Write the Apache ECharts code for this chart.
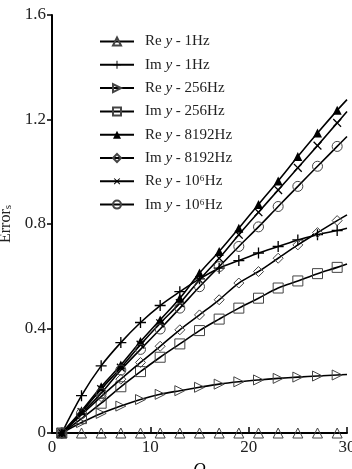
<!DOCTYPE html>
<html>
<head>
<meta charset="utf-8">
<title>Error vs Q</title>
<script src="https://cdn.jsdelivr.net/npm/echarts@6/dist/echarts.min.js"></script>
<style>
  html, body { margin: 0; padding: 0; background: #fff; }
</style>
</head>
<body>
<div id="main" style="width:352px;height:469px;"></div>
<script type="text/javascript">
// Q values (markers at odd Q, last point only ends the curve)
var qValues = [1, 3, 5, 7, 9, 11, 13, 15, 17, 19, 21, 23, 25, 27, 29, 30];

var reY1Hz    = [0, 0, 0, 0, 0, 0, 0, 0, 0, 0, 0, 0, 0, 0, 0, 0];
var imY1Hz    = [0, 0.143, 0.257, 0.346, 0.423, 0.488, 0.541, 0.590, 0.631, 0.660, 0.689, 0.714, 0.739, 0.759, 0.775, 0.784];
var reY256Hz  = [0, 0.040, 0.075, 0.103, 0.128, 0.148, 0.162, 0.175, 0.187, 0.196, 0.203, 0.209, 0.214, 0.218, 0.222, 0.224];
var imY256Hz  = [0, 0.055, 0.114, 0.177, 0.235, 0.290, 0.341, 0.392, 0.436, 0.478, 0.516, 0.555, 0.582, 0.610, 0.634, 0.647];
var reY8192Hz = [0, 0.085, 0.177, 0.260, 0.350, 0.433, 0.516, 0.612, 0.695, 0.784, 0.875, 0.965, 1.058, 1.148, 1.235, 1.276];
var imY8192Hz = [0, 0.070, 0.139, 0.206, 0.270, 0.332, 0.395, 0.452, 0.510, 0.574, 0.618, 0.669, 0.720, 0.767, 0.813, 0.835];
var reY1e6Hz  = [0, 0.080, 0.168, 0.250, 0.338, 0.420, 0.497, 0.586, 0.669, 0.759, 0.845, 0.930, 1.015, 1.100, 1.187, 1.231];
var imY1e6Hz  = [0, 0.075, 0.152, 0.241, 0.320, 0.398, 0.478, 0.560, 0.637, 0.714, 0.789, 0.867, 0.944, 1.021, 1.097, 1.135];

var seriesNames = ['Re y - 1Hz', 'Im y - 1Hz', 'Re y - 256Hz', 'Im y - 256Hz',
                   'Re y - 8192Hz', 'Im y - 8192Hz', 'Re y - 10\u2076Hz', 'Im y - 10\u2076Hz'];
var seriesValues = [reY1Hz, imY1Hz, reY256Hz, imY256Hz, reY8192Hz, imY8192Hz, reY1e6Hz, imY1e6Hz];

var xTicks = [0, 10, 20, 30];
var yTicks = [0, 0.4, 0.8, 1.2, 1.6];

var FONT = '"Liberation Serif", "DejaVu Serif", serif';
var plusPath = 'path://M4.4,0h1.2v4.4h4.4v1.2h-4.4v4.4h-1.2v-4.4h-4.4v-1.2h4.4z';

// marker look of each curve
var markers = [
  { symbol: 'triangle', size: 10, rotate: 0, hollow: true },
  { symbol: plusPath, size: 11, rotate: 0, hollow: false },
  { symbol: 'triangle', size: 10, rotate: -90, hollow: true },
  { symbol: 'rect', size: 10, rotate: 0, hollow: true },
  { symbol: 'triangle', size: 9, rotate: 0, hollow: false },
  { symbol: 'diamond', size: 10, rotate: 0, hollow: true },
  { symbol: plusPath, size: 11, rotate: 45, hollow: false },
  { symbol: 'circle', size: 10, rotate: 0, hollow: true }
];

var myChart = echarts.init(document.getElementById('main'), null, { renderer: 'canvas' });

var series = seriesNames.map(function (name, k) {
  var m = markers[k];
  return {
    name: name,
    type: 'line',
    smooth: 0.35,
    symbol: m.symbol,
    symbolSize: m.size,
    symbolRotate: m.rotate,
    showAllSymbol: true,
    z: 2 + k,
    lineStyle: { color: '#000', width: 1.6 },
    itemStyle: m.hollow
      ? { color: 'rgba(255,255,255,0)', borderColor: '#444', borderWidth: 1 }
      : { color: '#000', borderWidth: 0 },
    emphasis: { disabled: true },
    data: seriesValues[k].map(function (v, i) {
      var item = { value: [qValues[i], v] };
      if (qValues[i] % 2 === 0) item.symbol = 'none';
      return item;
    })
  };
});

myChart.setOption({
  backgroundColor: '#fff',
  animation: false,
  textStyle: { fontFamily: FONT, color: '#000' },
  grid: { left: 52, right: 5, top: 15, bottom: 36, containLabel: false, outerBoundsMode: 'none' },
  legend: {
    orient: 'vertical',
    left: 94,
    top: 29,
    itemWidth: 34,
    itemHeight: 10,
    itemGap: 8.3,
    data: seriesNames,
    formatter: function (name) {
      var parts = name.split(' y ');
      return '{n|' + parts[0] + ' }{i|y}{n| ' + parts[1] + '}';
    },
    textStyle: {
      fontFamily: FONT,
      fontSize: 15,
      color: '#222',
      padding: [0, 0, 0, 6],
      rich: {
        n: { fontFamily: FONT, fontSize: 15, color: '#222' },
        i: { fontFamily: FONT, fontSize: 15, color: '#222', fontStyle: 'italic' }
      }
    }
  },
  xAxis: {
    type: 'value',
    min: xTicks[0],
    max: xTicks[xTicks.length - 1],
    interval: 10,
    name: 'Q',
    nameLocation: 'middle',
    nameGap: 17,
    nameTextStyle: { fontFamily: FONT, fontSize: 17, fontStyle: 'italic', color: '#000' },
    axisLine: { show: true, lineStyle: { color: '#000', width: 2 } },
    axisTick: { show: true, inside: true, length: 6, lineStyle: { color: '#000', width: 1.5 } },
    axisLabel: { fontFamily: FONT, fontSize: 17, color: '#222', margin: 6 },
    splitLine: { show: false }
  },
  yAxis: {
    type: 'value',
    min: yTicks[0],
    max: yTicks[yTicks.length - 1],
    interval: 0.4,
    name: 'Error{s|s}',
    nameLocation: 'middle',
    nameGap: 31,
    nameTextStyle: {
      fontFamily: FONT, fontSize: 16, color: '#222',
      rich: { s: { fontFamily: FONT, fontSize: 11, color: '#222', padding: [6, 0, 0, 0] } }
    },
    axisLine: { show: true, lineStyle: { color: '#000', width: 2 } },
    axisTick: { show: true, inside: false, length: 5, lineStyle: { color: '#000', width: 1.5 } },
    axisLabel: { fontFamily: FONT, fontSize: 17, color: '#222', margin: 6 },
    splitLine: { show: false }
  },
  series: series
});
</script>
</body>
</html>
